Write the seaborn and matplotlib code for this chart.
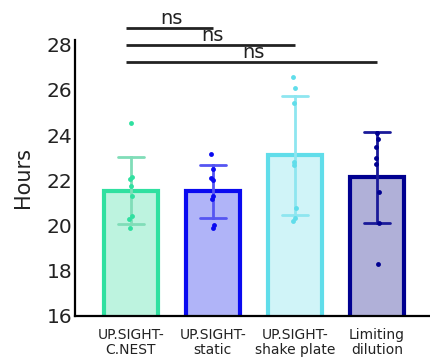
import numpy as np
import pandas as pd
import matplotlib
matplotlib.use("Agg")
import matplotlib.pyplot as plt
import seaborn as sns

# values (hours)
groups = ["UP.SIGHT-\nC.NEST", "UP.SIGHT-\nstatic", "UP.SIGHT-\nshake plate", "Limiting\ndilution"]
cnest = [24.53, 22.13, 22.04, 21.73, 21.29, 20.40, 20.27, 19.87]
static = [23.16, 22.49, 22.09, 22.00, 21.30, 21.16, 20.00, 19.87]
shake = [26.58, 26.09, 25.42, 22.80, 22.67, 20.76, 20.31, 20.18]
limiting = [24.09, 23.82, 23.47, 22.98, 22.71, 21.47, 20.13, 18.31]

edge_colors = ["#30E0A0", "#0A0AF0", "#60DDEA", "#000090"]
fill_colors = ["#BDF3DF", "#B0B4F8", "#D0F4F8", "#B0B0D8"]
err_colors = ["#80DDB8", "#5555F2", "#8EE6F0", "#1A1A99"]

# comparisons: (group a, group b, label)
comparisons = [(0, 1, "ns"), (0, 2, "ns"), (0, 3, "ns")]

df = pd.DataFrame({
    "group": np.repeat(groups, [len(cnest), len(static), len(shake), len(limiting)]),
    "hours": cnest + static + shake + limiting,
})

sns.set_style("white")
plt.rcParams["font.family"] = ["DejaVu Sans"]

fig = plt.figure(figsize=(4.31, 3.61), dpi=100)
ax = fig.add_axes([0.174, 0.125, 0.824, 0.764])

np.random.seed(3)
for i, g in enumerate(groups):
    sub = df[df["group"] == g]
    sns.barplot(data=sub, x="group", y="hours", order=groups, color=fill_colors[i],
                edgecolor=edge_colors[i], linewidth=3, width=0.66, errorbar="sd",
                capsize=0.32, err_kws={"color": err_colors[i], "linewidth": 2}, ax=ax)
    sns.stripplot(data=sub, x="group", y="hours", order=groups, color=edge_colors[i],
                  size=3.5, jitter=0.025, ax=ax, zorder=5)

# fill colour is set with color=, keep it unsaturated
for i, p in enumerate(ax.patches):
    p.set_facecolor(fill_colors[i % 4])

ax.set_ylim(16, 28.2)
ax.set_xlim(-0.68, 3.65)
ax.set_yticks([16, 18, 20, 22, 24, 26, 28])
ax.tick_params(axis="both", length=0, labelsize=14.5, pad=2, labelcolor="#222222")
ax.tick_params(axis="x", labelsize=10, pad=9)
for lab in ax.get_xticklabels():
    lab.set_linespacing(1.08)
ax.set_xlabel("")
ax.set_ylabel("Hours", fontsize=15, labelpad=10, color="#222222")
sns.despine(ax=ax)
for s in ["left", "bottom"]:
    ax.spines[s].set_linewidth(1.6)
    ax.spines[s].set_color("black")

levels = [28.72, 27.98, 27.22]
for (a, b, txt), y in zip(comparisons, levels):
    ax.plot([a - 0.06, b], [y, y], color="#222222", lw=2, clip_on=False, solid_capstyle="butt")
    ax.text((a + b) / 2, y + 0.02, txt, ha="center", va="bottom", fontsize=14, color="#222222")

fig.savefig("out.png", dpi=100)
